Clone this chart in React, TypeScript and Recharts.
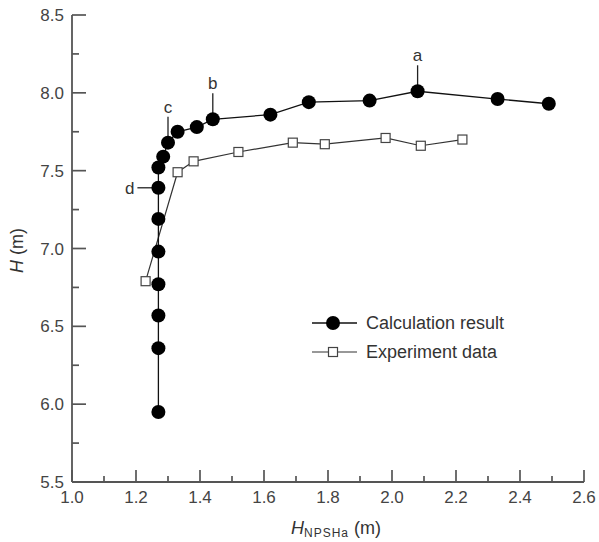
import React from 'react';
import { ScatterChart, Scatter, XAxis, YAxis, Legend, Label } from 'recharts';

// Calculation result series (H_NPSHa, H)
const calcX = [1.27, 1.27, 1.27, 1.27, 1.27, 1.27, 1.27, 1.27, 1.285, 1.3, 1.33, 1.39, 1.44, 1.62, 1.74, 1.93, 2.08, 2.33, 2.49];
const calcY = [5.95, 6.36, 6.57, 6.77, 6.98, 7.19, 7.39, 7.52, 7.59, 7.68, 7.75, 7.78, 7.83, 7.86, 7.94, 7.95, 8.01, 7.96, 7.93];

// Experiment data series
const expX = [1.23, 1.33, 1.38, 1.52, 1.69, 1.79, 1.98, 2.09, 2.22];
const expY = [6.79, 7.49, 7.56, 7.62, 7.68, 7.67, 7.71, 7.66, 7.7];

// Annotated points (index into calculation series)
const annotationLabels = ['a', 'b', 'c', 'd'];
const annotationIndex = [16, 12, 9, 6];

const seriesNames = ['Calculation result', 'Experiment data'];

const xTicks = [1.0, 1.1, 1.2, 1.3, 1.4, 1.5, 1.6, 1.7, 1.8, 1.9, 2.0, 2.1, 2.2, 2.3, 2.4, 2.5, 2.6];
const yTicks = [5.5, 5.75, 6.0, 6.25, 6.5, 6.75, 7.0, 7.25, 7.5, 7.75, 8.0, 8.25, 8.5];

const calcData = calcX.map((x, i) => ({ x, y: calcY[i] }));
const expData = expX.map((x, i) => ({ x, y: expY[i] }));
const annData = annotationLabels.map((label, i) => ({
  x: calcX[annotationIndex[i]],
  y: calcY[annotationIndex[i]],
  label,
}));

const FONT = '"Liberation Sans", Arial, sans-serif';
const AXIS = '#555';
const TEXT = '#444';

const XTick = (props: any) => {
  const { x, y, payload } = props;
  const v = payload.value;
  const major = Math.round(v * 10) % 2 === 0;
  return (
    <g>
      <line x1={x} x2={x} y1={y} y2={y - (major ? 12 : 6)} stroke={AXIS} strokeWidth={1.7} />
      {major && (
        <text x={x} y={y + 21} textAnchor="middle" fontSize={17} fill={TEXT} fontFamily={FONT}>
          {v.toFixed(1)}
        </text>
      )}
    </g>
  );
};

const YTick = (props: any) => {
  const { x, y, payload } = props;
  const v = payload.value;
  const major = Math.round(v * 100) % 50 === 0;
  return (
    <g>
      <line x1={x} x2={x + (major ? 14 : 7)} y1={y} y2={y} stroke={AXIS} strokeWidth={1.7} />
      {major && (
        <text x={x - 8} y={y} dy="0.36em" textAnchor="end" fontSize={17} fill={TEXT} fontFamily={FONT}>
          {v.toFixed(1)}
        </text>
      )}
    </g>
  );
};

const CalcShape = (props: any) => <circle cx={props.cx} cy={props.cy} r={7} fill="#000" />;
const ExpShape = (props: any) => (
  <rect x={props.cx - 4.5} y={props.cy - 4.5} width={9} height={9} fill="#fff" stroke="#444" strokeWidth={1.2} />
);

const AnnShape = (props: any) => {
  const { cx, cy, payload } = props;
  const left = payload.label === 'd';
  if (left) {
    return (
      <g>
        <line x1={cx} x2={cx - 21} y1={cy} y2={cy} stroke="#222" strokeWidth={1.3} />
        <text x={cx - 24} y={cy} dy="0.36em" textAnchor="end" fontSize={17} fill="#333" fontFamily={FONT}>
          {payload.label}
        </text>
      </g>
    );
  }
  return (
    <g>
      <line x1={cx} x2={cx} y1={cy} y2={cy - 26} stroke="#222" strokeWidth={1.3} />
      <text x={cx} y={cy - 30} textAnchor="middle" fontSize={17} fill="#333" fontFamily={FONT}>
        {payload.label}
      </text>
    </g>
  );
};

const renderLegend = () => (
  <svg width={260} height={60} style={{ display: 'block' }}>
    <line x1={12} x2={57} y1={18} y2={18} stroke="#111" strokeWidth={1.3} />
    <circle cx={33} cy={18} r={7} fill="#000" />
    <text x={66} y={18} dy="0.36em" fontSize={18} fill="#333" fontFamily={FONT}>
      {seriesNames[0]}
    </text>
    <line x1={12} x2={57} y1={47} y2={47} stroke="#333" strokeWidth={1.2} />
    <rect x={28.5} y={42.5} width={9} height={9} fill="#fff" stroke="#444" strokeWidth={1.2} />
    <text x={66} y={47} dy="0.36em" fontSize={18} fill="#333" fontFamily={FONT}>
      {seriesNames[1]}
    </text>
  </svg>
);

export default function App() {
  return (
    <div style={{ position: 'absolute', left: 0, top: 0, background: '#fff' }}>
      <ScatterChart width={599} height={542} margin={{ top: 15, right: 15, bottom: 0, left: 0 }}>
        <XAxis
          dataKey="x"
          type="number"
          domain={[1.0, 2.6]}
          ticks={xTicks}
          interval={0}
          tickLine={false}
          tickSize={0}
          tickMargin={0}
          tick={<XTick />}
          axisLine={{ stroke: AXIS, strokeWidth: 1.8 }}
          height={60}
        >
          <Label
            content={(p: any) => {
              const vb = p.viewBox;
              const cx = vb.x + vb.width / 2 + 8;
              return (
                <text x={cx} y={534} textAnchor="middle" fontSize={18} fill="#333" fontFamily={FONT}>
                  <tspan fontStyle="italic">H</tspan>
                  <tspan fontSize={12} dy={3} letterSpacing={1}>NPSHa</tspan>
                  <tspan dy={-3}> (m)</tspan>
                </text>
              );
            }}
          />
        </XAxis>
        <YAxis
          dataKey="y"
          type="number"
          domain={[5.5, 8.5]}
          ticks={yTicks}
          interval={0}
          tickLine={false}
          tickSize={0}
          tickMargin={0}
          tick={<YTick />}
          axisLine={{ stroke: AXIS, strokeWidth: 1.8 }}
          width={72}
        >
          <Label
            content={(p: any) => {
              const vb = p.viewBox;
              const cy = vb.y + vb.height / 2 + 2;
              return (
                <text
                  x={17}
                  y={cy}
                  transform={`rotate(-90, 17, ${cy})`}
                  textAnchor="middle"
                  dy="0.36em"
                  fontSize={18}
                  fill="#333"
                  fontFamily={FONT}
                >
                  <tspan fontStyle="italic">H</tspan> (m)
                </text>
              );
            }}
          />
        </YAxis>
        <Legend
          layout="vertical"
          align="center"
          verticalAlign="middle"
          content={renderLegend}
          wrapperStyle={{ left: 300, top: 305, width: 260, height: 60 }}
        />
        <Scatter data={annData} shape={<AnnShape />} isAnimationActive={false} legendType="none" />
        <Scatter
          name={seriesNames[1]}
          data={expData}
          line={{ stroke: '#333', strokeWidth: 1.2 }}
          stroke="#333"
          shape={<ExpShape />}
          isAnimationActive={false}
        />
        <Scatter
          name={seriesNames[0]}
          data={calcData}
          line={{ stroke: '#111', strokeWidth: 1.3 }}
          stroke="#111"
          shape={<CalcShape />}
          isAnimationActive={false}
        />
      </ScatterChart>
    </div>
  );
}
